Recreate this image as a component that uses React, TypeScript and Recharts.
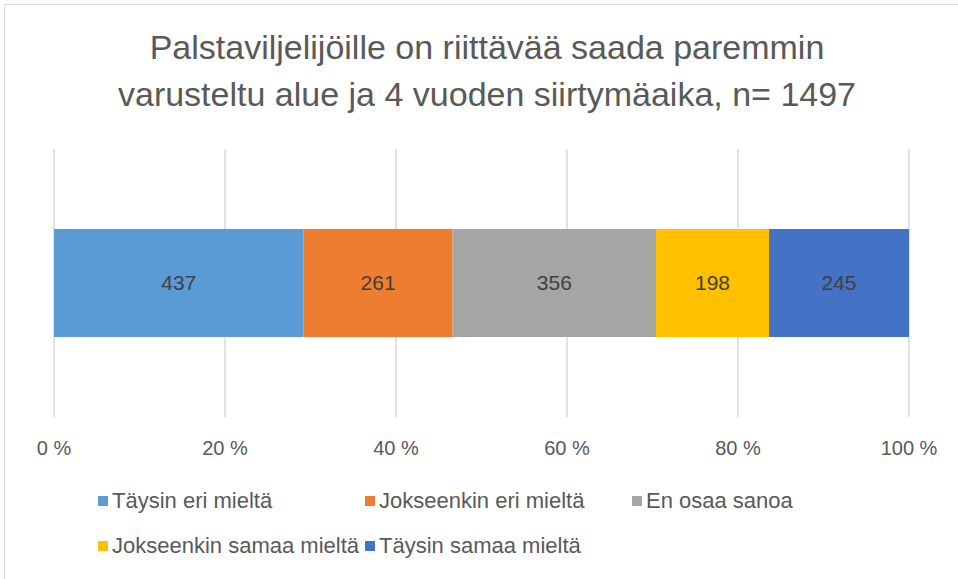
import { Bar, BarChart, CartesianGrid, LabelList, XAxis, YAxis } from 'recharts'

// Vastaukset (n = 1497), pinottu 100 % -palkiksi
const categories = ['Vastaukset']
const seriesNames = [
  'Täysin eri mieltä',
  'Jokseenkin eri mieltä',
  'En osaa sanoa',
  'Jokseenkin samaa mieltä',
  'Täysin samaa mieltä',
]
const seriesValues = [437, 261, 356, 198, 245]
const seriesColors = ['#5b9bd5', '#ed7d31', '#a5a5a5', '#ffc000', '#4472c4']
const xTicks = [0, 0.2, 0.4, 0.6, 0.8, 1]

const FONT = '"Liberation Sans", Arial, sans-serif'

const data = categories.map((name) => {
  const row: Record<string, string | number> = { name }
  seriesNames.forEach((s, i) => {
    row[`s${i}`] = seriesValues[i]
  })
  return row
})

// Selite samassa järjestyksessä kuin sarjat (Excel-tyylinen ruudukko)
function LegendGrid() {
  return (
    <div
      style={{
        position: 'absolute',
        left: 98,
        top: 489,
        display: 'grid',
        gridTemplateColumns: '267px 267px 267px',
        rowGap: 21,
        fontFamily: FONT,
        fontSize: 22,
        color: '#595959',
      }}
    >
      {seriesNames.map((s, i) => (
        <div key={s} style={{ display: 'flex', alignItems: 'center', height: 24, whiteSpace: 'nowrap' }}>
          <span
            style={{
              width: 10,
              height: 10,
              background: seriesColors[i],
              marginRight: 4,
              display: 'inline-block',
              flexShrink: 0,
            }}
          />
          <span>{s}</span>
        </div>
      ))}
    </div>
  )
}

export default function App() {
  return (
    <div
      style={{
        position: 'absolute',
        left: 0,
        top: 0,
        width: 958,
        height: 579,
        overflow: 'hidden',
        background: '#fff',
      }}
    >
      <div
        style={{
          position: 'absolute',
          left: 4,
          top: 4,
          width: 1000,
          height: 700,
          borderLeft: '1px solid #d9d9d9',
          borderTop: '1px solid #d9d9d9',
        }}
      />
      <div
        style={{
          position: 'absolute',
          left: 0,
          top: 24,
          width: 974,
          textAlign: 'center',
          fontFamily: FONT,
          fontSize: 34,
          lineHeight: '47px',
          color: '#595959',
        }}
      >
        Palstaviljelijöille on riittävää saada paremmin
        <br />
        varusteltu alue ja 4 vuoden siirtymäaika, n= 1497
      </div>
      <div style={{ position: 'absolute', left: 0, top: 0 }}>
        <BarChart
          width={958}
          height={579}
          data={data}
          layout="vertical"
          stackOffset="expand"
          margin={{ top: 149, right: 49, bottom: 102, left: 54 }}
        >
          <CartesianGrid horizontal={false} stroke="#d9d9d9" strokeWidth={1.5} />
          <XAxis
            type="number"
            domain={[0, 1]}
            ticks={xTicks}
            tickFormatter={(v: number) => `${Math.round(v * 100)} %`}
            axisLine={false}
            tickLine={false}
            tickMargin={18}
            tick={{ fontSize: 20, fill: '#595959', fontFamily: FONT }}
            interval={0}
            height={60}
          />
          <YAxis type="category" dataKey="name" hide />
          {seriesNames.map((s, i) => (
            <Bar
              key={s}
              dataKey={`s${i}`}
              name={s}
              stackId="a"
              fill={seriesColors[i]}
              barSize={108}
              isAnimationActive={false}
            >
              <LabelList
                dataKey={`s${i}`}
                position="center"
                fill="#404040"
                fontSize={21}
                fontFamily={FONT}
              />
            </Bar>
          ))}
        </BarChart>
      </div>
      <LegendGrid />
    </div>
  )
}
